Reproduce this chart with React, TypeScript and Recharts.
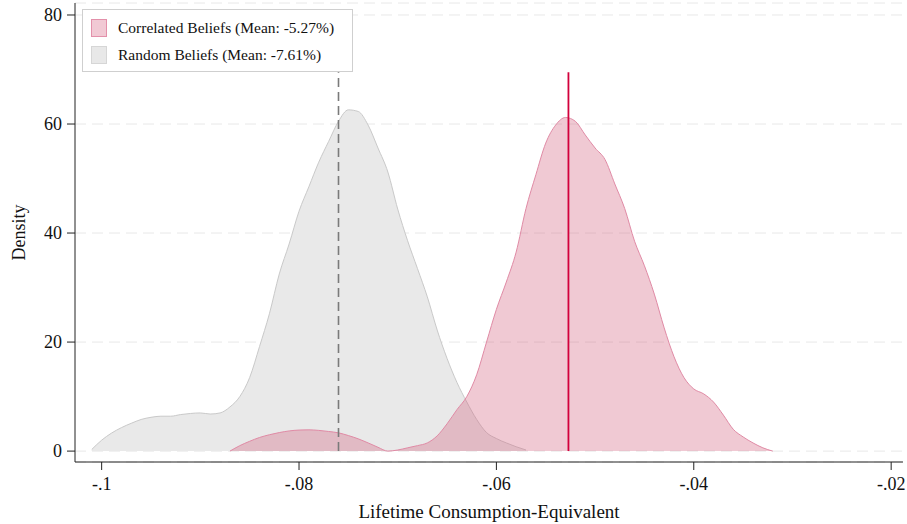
import React from 'react'
import {
  Area,
  CartesianGrid,
  ComposedChart,
  ReferenceLine,
  XAxis,
  YAxis,
  Label,
} from 'recharts'

// x grid (lifetime consumption-equivalent), densities
const X_VALUES = [
  -0.102, -0.101, -0.1, -0.099, -0.098, -0.097, -0.096, -0.095, -0.094, -0.093,
  -0.092, -0.091, -0.09, -0.089, -0.088, -0.087, -0.086, -0.085, -0.084, -0.083,
  -0.082, -0.081, -0.08, -0.079, -0.078, -0.077, -0.076, -0.075, -0.074, -0.073,
  -0.072, -0.071, -0.07, -0.069, -0.068, -0.067, -0.066, -0.065, -0.064, -0.063,
  -0.062, -0.061, -0.06, -0.059, -0.058, -0.057, -0.056, -0.055, -0.054, -0.053,
  -0.052, -0.051, -0.05, -0.049, -0.048, -0.047, -0.046, -0.045, -0.044, -0.043,
  -0.042, -0.041, -0.04, -0.039, -0.038, -0.037, -0.036, -0.035, -0.034, -0.033,
  -0.032,
]

const RANDOM_DENSITY = [
  null, 0.3, 2.0, 3.3, 4.3, 5.1, 5.8, 6.2, 6.4, 6.4,
  6.7, 6.9, 7.0, 6.8, 7.0, 8.1, 10.0, 13.5, 19.2, 25.2,
  32.5, 38.0, 44.0, 48.5, 53.0, 56.8, 60.5, 62.6, 62.3, 59.8,
  55.6, 51.2, 44.4, 38.6, 33.5, 28.3, 22.2, 17.0, 12.6, 9.0,
  5.8, 3.4, 2.3, 1.5, 0.8, 0.2, null, null, null, null,
  null, null, null, null, null, null, null, null, null, null,
  null, null, null, null, null, null, null, null, null, null,
  null,
]

const CORRELATED_DENSITY = [
  null, null, null, null, null, null, null, null, null, null,
  null, null, null, null, null, 0, 1.0, 1.8, 2.5, 3.0,
  3.4, 3.7, 3.86, 3.9, 3.8, 3.6, 3.35, 2.85, 2.25, 1.5,
  0.7, 0, 0.2, 0.6, 1.0, 1.5, 2.8, 5.0, 7.6, 10.0,
  14.0, 20.0, 26.0, 31.0, 36.5, 44.5, 50.7, 56.5, 59.8, 61.2,
  60.5, 58.0, 55.6, 53.5, 49.0, 44.5, 38.5, 34.0, 28.8, 22.6,
  17.3, 13.5, 11.4, 10.5, 9.0, 6.6, 4.0, 2.6, 1.5, 0.6,
  0,
]

const X_TICKS = [-0.1, -0.08, -0.06, -0.04, -0.02]
const Y_TICKS = [0, 20, 40, 60, 80]

const MEAN_RANDOM = -0.076
const MEAN_CORRELATED = -0.0527
const MEAN_LINE_TOP = 69.5

const data = X_VALUES.map((x, i) => ({
  x,
  random: RANDOM_DENSITY[i],
  correlated: CORRELATED_DENSITY[i],
}))

const FONT = '"Liberation Serif", "Times New Roman", serif'

const formatX = (v: number) => String(v).replace('0.', '.')

const LegendBox = () => (
  <div
    style={{
      position: 'absolute',
      left: 82,
      top: 9,
      width: 271,
      height: 63,
      background: '#fff',
      border: '1px solid #cfcfcf',
      boxSizing: 'border-box',
      fontFamily: FONT,
      fontSize: 15.5,
      color: '#111',
    }}
  >
    {[
      { label: 'Correlated Beliefs (Mean: -5.27%)', fill: '#f1c9d4', stroke: '#e390aa' },
      { label: 'Random Beliefs (Mean: -7.61%)', fill: '#e8e8e8', stroke: '#d6d6d6' },
    ].map((item, i) => (
      <div
        key={i}
        style={{ position: 'absolute', left: 8, top: 9 + i * 27, display: 'flex', alignItems: 'center' }}
      >
        <div
          style={{
            width: 14,
            height: 16,
            background: item.fill,
            border: `1px solid ${item.stroke}`,
          }}
        />
        <span style={{ marginLeft: 11 }}>{item.label}</span>
      </div>
    ))}
  </div>
)

export default function App() {
  return (
    <div style={{ position: 'absolute', left: 0, top: 0, width: 907, height: 524, background: '#fff' }}>
      <ComposedChart
        width={907}
        height={524}
        data={data}
        margin={{ top: 3, right: 4, left: 15, bottom: 6 }}
      >
        <CartesianGrid vertical={false} stroke="#e8e8e8" strokeDasharray="11 6" />
        <XAxis
          dataKey="x"
          type="number"
          domain={[-0.1027, -0.0188]}
          ticks={X_TICKS}
          allowDataOverflow
          tickFormatter={formatX}
          stroke="#222"
          tick={{ fill: '#111', fontSize: 18, fontFamily: FONT }}
          tickSize={8}
          tickMargin={7}
          height={56}
        >
          <Label
            value="Lifetime Consumption-Equivalent"
            position="insideBottom"
            offset={0}
            style={{ fill: '#111', fontSize: 19, fontFamily: FONT }}
          />
        </XAxis>
        <YAxis
          type="number"
          domain={[-2, 82.2]}
          ticks={Y_TICKS}
          allowDataOverflow
          stroke="#222"
          tick={{ fill: '#111', fontSize: 18, fontFamily: FONT }}
          tickSize={8}
          tickMargin={5}
          width={60}
        >
          <Label
            value="Density"
            angle={-90}
            position="insideLeft"
            offset={4}
            style={{ fill: '#111', fontSize: 18, fontFamily: FONT, textAnchor: 'middle' }}
          />
        </YAxis>
        <Area
          type="monotone"
          dataKey="random"
          baseValue={0}
          stroke="#c9c9c9"
          strokeWidth={1}
          fill="#e9e9e9"
          fillOpacity={1}
          isAnimationActive={false}
        />
        <Area
          type="monotone"
          dataKey="correlated"
          baseValue={0}
          stroke="#e08aa5"
          strokeWidth={1}
          fill="#d46581"
          fillOpacity={0.35}
          isAnimationActive={false}
        />
        <ReferenceLine
          segment={[
            { x: MEAN_RANDOM, y: 0 },
            { x: MEAN_RANDOM, y: MEAN_LINE_TOP },
          ]}
          stroke="#7a7a7a"
          strokeWidth={1.6}
          strokeDasharray="9 5"
        />
        <ReferenceLine
          segment={[
            { x: MEAN_CORRELATED, y: 0 },
            { x: MEAN_CORRELATED, y: MEAN_LINE_TOP },
          ]}
          stroke="#d2003c"
          strokeWidth={1.8}
        />
      </ComposedChart>
      <LegendBox />
    </div>
  )
}
